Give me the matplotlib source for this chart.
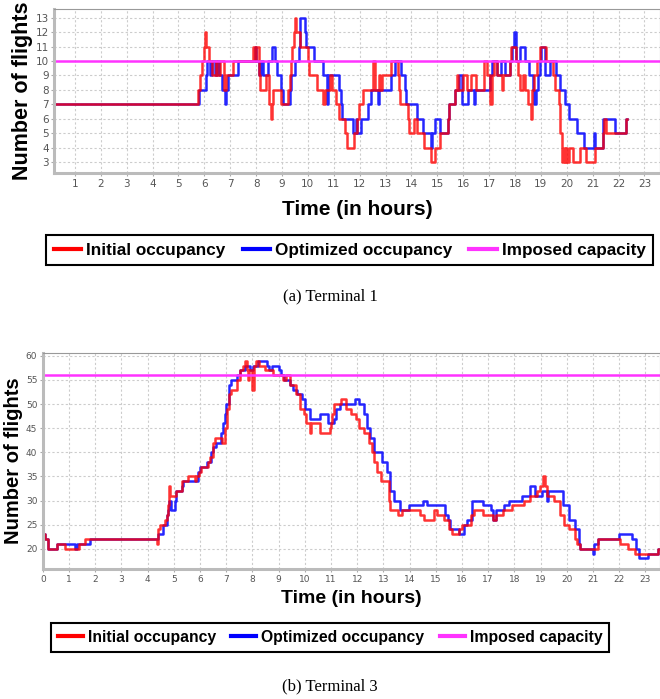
import matplotlib.pyplot as plt
import numpy as np

# Terminal 1 : change points (hour, number of flights)
t1_init_t = [0.2, 5.76, 5.85, 5.93, 6.0, 6.04, 6.08, 6.2, 6.3, 6.45, 6.5, 6.6, 6.75, 6.85, 7.1,
             7.89, 7.94, 7.99, 8.12, 8.17, 8.4, 8.5, 8.56, 8.6, 8.66, 8.98, 9.24, 9.3, 9.35, 9.4,
             9.46, 9.5, 9.54, 9.69, 10.0, 10.05, 10.35, 10.6, 10.66, 10.85, 10.95, 11.1, 11.2,
             11.42, 11.5, 11.8, 11.9, 11.97, 12.13, 12.53, 12.58, 12.75, 12.8, 12.88, 13.2, 13.5,
             13.53, 13.57, 13.85, 13.9, 14.1, 14.2, 14.5, 14.75, 14.9, 15.1, 15.4, 15.47, 15.7,
             15.75, 15.8, 16.0, 16.15, 16.3, 16.5, 16.82, 16.9, 17.05, 17.1, 17.2, 17.3, 17.5,
             17.55, 17.8, 17.85, 18.05, 18.1, 18.2, 18.3, 18.4, 18.5, 18.6, 18.66, 18.75, 18.85,
             18.95, 19.2, 19.45, 19.55, 19.7, 19.75, 19.82, 19.88, 19.92, 19.98, 20.02, 20.1,
             20.25, 20.5, 20.75, 21.1, 21.4, 21.45, 21.5, 22.3, 22.32]
t1_init_v = [7, 8, 9, 10, 11, 12, 11, 10, 9, 10, 9, 10, 8, 9, 10,
             11, 10, 11, 9, 8, 9, 7, 6, 7, 8, 7, 8, 9, 10, 11,
             12, 13, 12, 11, 10, 9, 8, 7, 8, 9, 8, 7, 6,
             5, 4, 5, 6, 7, 8, 10, 8, 9, 8, 9, 10, 9,
             8, 7, 6, 5, 6, 5, 4, 3, 4, 5, 6, 7, 8,
             9, 8, 9, 8, 9, 8, 10, 9, 7, 9, 10, 9, 8,
             9, 10, 11, 10, 9, 8, 9, 8, 7, 6, 8, 9, 10,
             11, 10, 9, 8, 7, 5, 3, 4, 3, 4, 3, 4,
             3, 4, 3, 4, 5, 6, 5, 6, 6]

t1_opt_t = [0.2, 5.79, 6.05, 6.12, 6.22, 6.3, 6.4, 6.48, 6.58, 6.7, 6.8, 6.84, 6.9, 7.3, 7.95,
            8.0, 8.12, 8.2, 8.25, 8.45, 8.6, 8.72, 8.8, 8.98, 9.05, 9.3, 9.35, 9.5, 9.65, 9.7,
            9.88, 9.93, 10.25, 10.6, 10.75, 10.78, 11.2, 11.27, 11.33, 11.75, 11.85, 11.9,
            12.07, 12.33, 12.45, 12.7, 12.74, 13.2, 13.35, 13.6, 13.75, 13.8, 14.2, 14.45,
            14.75, 14.8, 14.9, 15.1, 15.4, 15.47, 15.7, 15.85, 15.95, 16.2, 16.4, 16.45, 17.05,
            17.1, 17.3, 17.45, 17.6, 17.8, 17.9, 17.97, 18.03, 18.2, 18.4, 18.55, 18.7, 18.75,
            18.8, 18.9, 18.95, 19.0, 19.15, 19.35, 19.6, 19.72, 19.92, 20.1, 20.4, 20.65, 21.05,
            21.1, 21.4, 21.85, 22.3, 22.32]
t1_opt_v = [7, 8, 9, 10, 9, 10, 9, 10, 9, 8, 7, 8, 9, 10, 11,
            10, 9, 10, 9, 10, 11, 10, 9, 8, 7, 8, 9, 10, 11, 13,
            12, 11, 10, 9, 7, 9, 8, 7, 6, 5, 6, 5,
            6, 7, 8, 7, 8, 9, 10, 9, 8, 7, 6, 5,
            4, 5, 6, 5, 6, 7, 8, 9, 7, 8, 7, 8, 9,
            10, 9, 10, 9, 10, 11, 12, 10, 11, 10, 9, 8, 7,
            8, 9, 10, 11, 9, 10, 9, 8, 7, 6, 5, 4, 5,
            4, 6, 5, 6, 6]
t1_capacity = 10

# Terminal 3
t3_init_t = [0.0, 0.09, 0.2, 0.53, 0.85, 1.36, 1.6, 4.35, 4.38, 4.47, 4.66, 4.72, 4.76, 4.8, 4.82,
             4.85, 5.1, 5.3, 5.55, 5.8, 5.85, 5.95, 6.05, 6.3, 6.37, 6.5, 6.57, 6.82, 6.95, 7.02,
             7.1, 7.2, 7.4, 7.52, 7.65, 7.73, 7.78, 7.82, 7.88, 8.0, 8.06, 8.15, 8.25, 8.47, 8.8,
             9.17, 9.3, 9.43, 9.68, 9.8, 9.95, 10.06, 10.2, 10.25, 10.57, 10.95, 11.0, 11.05,
             11.12, 11.37, 11.56, 11.75, 11.95, 12.06, 12.25, 12.45, 12.57, 12.64, 12.76, 12.9,
             13.2, 13.27, 13.55, 13.72, 14.4, 14.55, 14.92, 15.05, 15.3, 15.5, 15.62, 15.9, 16.0,
             16.35, 16.45, 16.8, 17.2, 17.3, 17.55, 17.9, 18.35, 18.6, 18.85, 18.97, 19.1, 19.17,
             19.25, 19.5, 19.75, 19.88, 20.08, 20.3, 20.4, 20.5, 21.2, 22.05, 22.35, 22.6, 23.5,
             23.56]
t3_init_v = [23, 22, 20, 21, 20, 21, 22, 21, 24, 25, 26, 27, 29, 32, 33,
             31, 32, 34, 35, 34, 35, 36, 37, 38, 39, 42, 43, 42, 45, 49,
             52, 53, 55, 57, 58, 59, 57, 55, 57, 53, 58, 59, 58, 57, 56,
             55, 56, 54, 52, 49, 48, 46, 44, 46, 44, 45, 46, 48,
             50, 51, 49, 48, 47, 45, 44, 42, 40, 38, 36, 34,
             30, 28, 27, 28, 27, 26, 28, 27, 26, 24, 23, 24, 25,
             27, 28, 27, 26, 27, 28, 29, 30, 31, 32, 33, 35, 33,
             31, 30, 27, 25, 24, 22, 21, 20, 22, 21, 20, 19, 20,
             20]

t3_opt_t = [0.0, 0.09, 0.2, 0.53, 1.22, 1.3, 1.8, 4.4, 4.6, 4.72, 4.77, 4.83, 4.9, 5.05, 5.1,
            5.3, 5.35, 5.92, 6.0, 6.25, 6.4, 6.5, 6.62, 6.8, 6.87, 6.95, 7.0, 7.12, 7.2, 7.4,
            7.52, 7.7, 7.9, 8.03, 8.22, 8.54, 8.62, 8.73, 9.0, 9.1, 9.22, 9.45, 9.55, 9.7, 9.88,
            10.0, 10.2, 10.57, 10.88, 11.1, 11.2, 11.35, 11.9, 12.06, 12.25, 12.38, 12.5, 12.63,
            12.95, 13.14, 13.27, 13.4, 13.65, 13.96, 14.5, 14.65, 15.35, 15.48, 15.55, 15.9,
            16.07, 16.2, 16.4, 16.8, 17.1, 17.2, 17.3, 17.6, 17.8, 18.3, 18.6, 18.8, 19.05,
            19.25, 19.3, 19.85, 20.1, 20.3, 20.45, 20.5, 21.0, 21.05, 21.2, 22.0, 22.5, 22.65,
            22.75, 23.1, 23.48, 23.56]
t3_opt_v = [23, 22, 20, 21, 20, 21, 22, 23, 25, 27, 28, 30, 28, 30, 32,
            33, 34, 36, 37, 38, 40, 41, 42, 44, 46, 48, 50, 54, 55, 56,
            57, 58, 57, 58, 59, 58, 57, 58, 57, 56, 55, 54, 53, 52, 51,
            49, 47, 48, 46, 47, 49, 50, 51, 50, 48, 45, 43, 40,
            38, 36, 32, 30, 28, 29, 30, 29, 27, 26, 24, 23,
            25, 26, 30, 29, 28, 26, 28, 29, 30, 31, 33, 31, 32,
            30, 32, 29, 26, 24, 21, 20, 19, 21, 22, 23, 22, 20,
            18, 19, 20, 20]
t3_capacity = 56

labels = ["Initial occupancy", "Optimized occupancy", "Imposed capacity"]
SANS = 'Liberation Sans'

fig = plt.figure(figsize=(6.6, 6.99), dpi=100)
ax1 = fig.add_axes([0.082, 0.7525, 0.918, 0.2346])
ax2 = fig.add_axes([0.065, 0.186, 0.935, 0.309])


def draw(ax, ti, vi, to, vo, cap, xt, yt, xlim, ylim, fs_x, fs_y, fs_tick, xpad,
         leg_y, leg_x, leg_fs):
    l2, = ax.step(to, vo, where='post', color='#0000ff', lw=1.8, alpha=0.85)
    l1, = ax.step(ti, vi, where='post', color='#ff0000', lw=1.8, alpha=0.8)
    l3 = ax.axhline(cap, color='#ff33ff', lw=1.8)
    ax.set_xlim(*xlim)
    ax.set_ylim(*ylim)
    ax.set_xticks(xt)
    ax.set_yticks(yt)
    ax.grid(True, color='#cccccc', ls=(0, (2, 2)), lw=0.8)
    ax.tick_params(labelsize=fs_tick, labelcolor='#555555', length=2, color='#aaaaaa', pad=2)
    for s in ['top', 'right']:
        ax.spines[s].set_color('#999999')
        ax.spines[s].set_linewidth(0.8)
    for s in ['left', 'bottom']:
        ax.spines[s].set_color('#bbbbbb')
        ax.spines[s].set_linewidth(2.2)
    ax.set_xlabel("Time (in hours)", fontsize=fs_x, fontweight='bold', family=SANS,
                  labelpad=xpad)
    ax.set_ylabel("Number of flights", fontsize=fs_y, fontweight='bold', family=SANS,
                  labelpad=2)
    leg = fig.legend([l1, l2, l3], labels, loc='center', bbox_to_anchor=(leg_x, leg_y), ncol=3,
                     fancybox=False, edgecolor='black', framealpha=1,
                     prop={'weight': 'bold', 'size': leg_fs, 'family': SANS},
                     handlelength=1.6, handletextpad=0.3, columnspacing=1.0, borderpad=0.45)
    leg.get_frame().set_linewidth(1.5)
    for h in leg.legend_handles:
        h.set_linewidth(3)
        h.set_alpha(1)


draw(ax1, t1_init_t, t1_init_v, t1_opt_t, t1_opt_v, t1_capacity,
     range(1, 24), range(3, 14), (0.2, 23.6), (2.25, 13.6), 15, 15.5, 7.5, 8,
     0.642, 0.53, 12.3)
draw(ax2, t3_init_t, t3_init_v, t3_opt_t, t3_opt_v, t3_capacity,
     range(0, 24), range(20, 61, 5), (0, 23.56), (15.8, 60.6), 14, 14.5, 6.5, 5,
     0.088, 0.5, 11.3)

fig.text(0.5, 0.5765, "(a) Terminal 1", ha='center', va='center', fontsize=12,
         family='Liberation Serif')
fig.text(0.5, 0.0186, "(b) Terminal 3", ha='center', va='center', fontsize=12,
         family='Liberation Serif')

plt.savefig("out.png", dpi=100)
